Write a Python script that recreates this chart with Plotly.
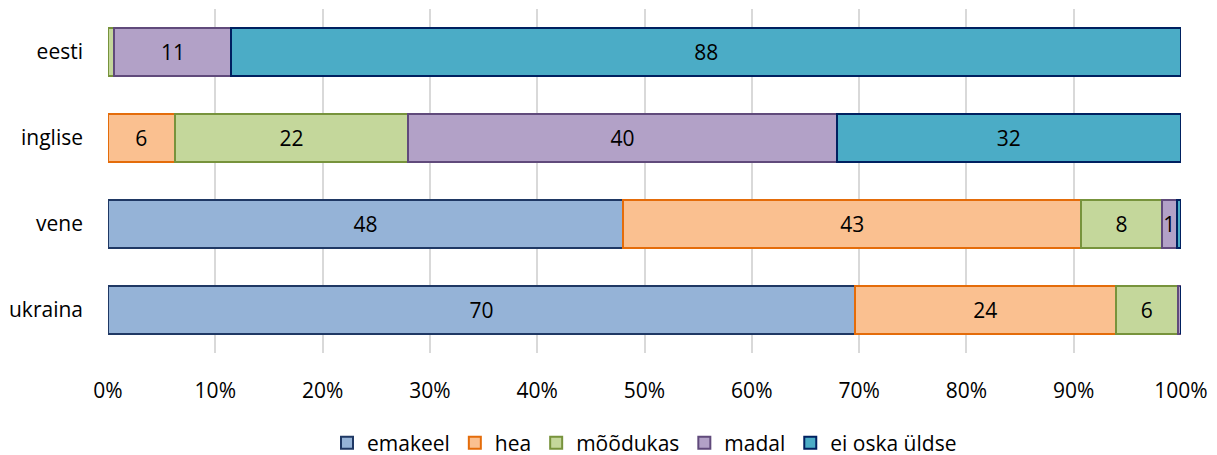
import plotly.graph_objects as go

categories = ["eesti", "inglise", "vene", "ukraina"]
series_names = ["emakeel", "hea", "mõõdukas", "madal", "ei oska üldse"]
emakeel = [0.0, 0.0, 48.0, 69.6]
hea = [0.0, 6.2, 42.7, 24.3]
moodukas = [0.6, 21.8, 7.5, 5.8]
madal = [10.9, 39.9, 1.4, 0.3]
ei_oska = [88.5, 32.1, 0.4, 0.0]
tick_vals = [0, 10, 20, 30, 40, 50, 60, 70, 80, 90, 100]
tick_text = [f"{v}%" for v in tick_vals]

fills = ["#95B3D7", "#FAC090", "#C4D79B", "#B2A1C7", "#4BACC6"]
borders = ["#1F3864", "#E46C0A", "#77933C", "#604A7B", "#002060"]

FS = 21

fig = go.Figure()
for name, vals, fc, bc in zip(series_names, [emakeel, hea, moodukas, madal, ei_oska], fills, borders):
    txt = [f"{round(v)}" if v >= 1 else "" for v in vals]
    fig.add_trace(go.Bar(
        y=categories, x=vals, name=name, orientation="h",
        marker=dict(color=fc, line=dict(color=bc, width=2)),
        text=txt, textposition="inside", insidetextanchor="middle",
        textangle=0, textfont=dict(size=FS, color="#000000"),
        constraintext="none", cliponaxis=False,
    ))

# page body adds an 8px offset to the figure
fig.update_layout(
    barmode="stack", bargap=0.44,
    width=1209, height=455,
    margin=dict(l=100, r=36, t=1, b=110, autoexpand=False),
    paper_bgcolor="white", plot_bgcolor="white",
    font=dict(family="Open Sans, Noto Sans, sans-serif", size=FS, color="#000000"),
    legend=dict(orientation="h", x=0.5, xanchor="center", y=-0.262, yanchor="middle",
                font=dict(size=FS), itemwidth=30, traceorder="normal"),
    showlegend=True,
)
fig.update_xaxes(range=[0, 100], tickvals=tick_vals, ticktext=tick_text,
                 showgrid=True, gridcolor="#D9D9D9", gridwidth=2, zeroline=False,
                 showline=False, ticks="", ticklabelstandoff=23, tickfont=dict(size=FS),
                 automargin=False)
fig.update_yaxes(categoryorder="array", categoryarray=categories[::-1],
                 showgrid=False, showline=False, ticks="", ticklabelstandoff=24,
                 tickfont=dict(size=FS), automargin=False)

fig.write_html("out.html")
